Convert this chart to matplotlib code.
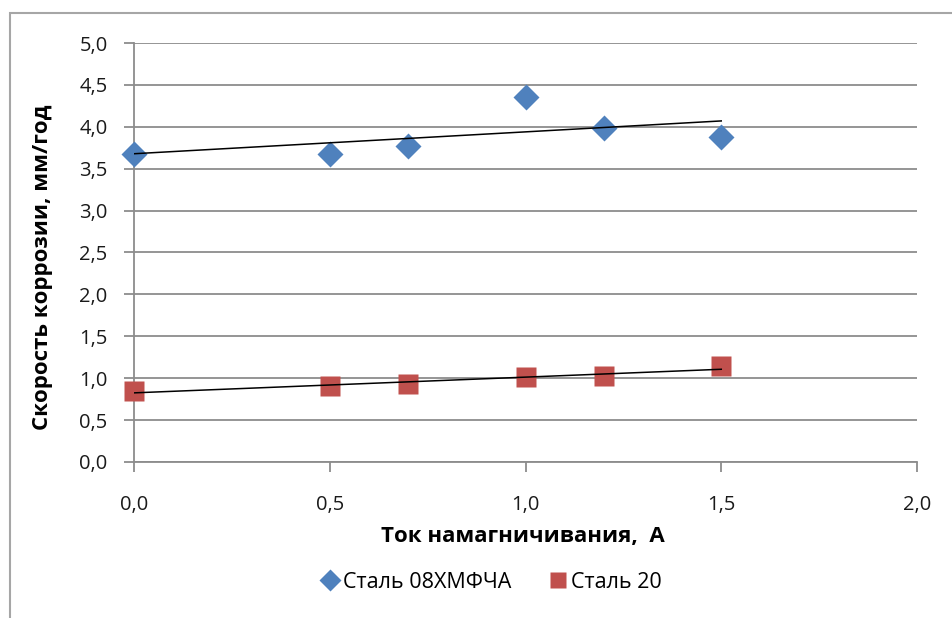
import numpy as np
import matplotlib.pyplot as plt
from matplotlib.patches import Rectangle
from matplotlib.ticker import FuncFormatter

plt.rcParams['font.family'] = ['Open Sans', 'DejaVu Sans']

# ток намагничивания, А
current = [0.0, 0.5, 0.7, 1.0, 1.2, 1.5]
# скорость коррозии, мм/год
steel_08 = [3.68, 3.67, 3.77, 4.36, 3.99, 3.88]
steel_20 = [0.85, 0.91, 0.93, 1.01, 1.03, 1.14]
labels = ["Сталь 08ХМФЧА", "Сталь 20"]

W, H = 952, 618
fig = plt.figure(figsize=(W / 100, H / 100), dpi=100)
ax = fig.add_axes([134 / W, 1 - 462 / H, (917 - 134) / W, (462 - 43) / H])

grid_col = '#8c8c8c'
ax.set_xlim(0, 2.0)
ax.set_ylim(0, 5.0)
ax.set_yticks(np.arange(0, 5.01, 0.5))
ax.set_xticks(np.arange(0, 2.01, 0.5))
fmt = FuncFormatter(lambda v, p: f"{v:.1f}".replace('.', ','))
ax.xaxis.set_major_formatter(fmt)
ax.yaxis.set_major_formatter(fmt)
ax.yaxis.grid(True, color=grid_col, lw=1.3)
ax.set_axisbelow(True)
for s in ['top', 'right']:
    ax.spines[s].set_visible(False)
for s in ['left', 'bottom']:
    ax.spines[s].set_color(grid_col)
    ax.spines[s].set_linewidth(1.3)
ax.tick_params(axis='both', colors=grid_col, width=1.3, length=7,
               labelcolor='#1a1a1a', labelsize=14.5)
ax.tick_params(axis='y', pad=12)
ax.tick_params(axis='x', pad=17)

ax.plot(current, steel_08, 'D', color='#4F81BD', ms=13, mec='none',
        label=labels[0], zorder=3, clip_on=False)
ax.plot(current, steel_20, 's', color='#C0504D', ms=14, mec='none',
        label=labels[1], zorder=3, clip_on=False)

# линейные тренды
xx = np.array([current[0], current[-1]])
for ser in (steel_08, steel_20):
    k, b = np.polyfit(current, ser, 1)
    ax.plot(xx, k * xx + b, color='black', lw=1.1, zorder=4)

ax.set_xlabel("Ток намагничивания,  А", fontsize=16, fontweight='bold')
ax.xaxis.set_label_coords((523 - 134) / (917 - 134), -(526 - 462) / (462 - 43))
ax.set_ylabel("Скорость коррозии, мм/год", fontsize=16, fontweight='bold')
ax.yaxis.set_label_coords(-(134 - 53) / (917 - 134), (462 - 267) / (462 - 43))

leg = fig.legend(loc='center', bbox_to_anchor=(490 / W, 1 - 582 / H), ncol=2,
                 frameon=False, fontsize=15.5, handletextpad=0.05,
                 columnspacing=1.6, handlelength=1.1, markerscale=0.85)

# рамка диаграммы
fig.add_artist(Rectangle((10 / W, -0.1), 1.2, 1.1 - 13 / H,
                         transform=fig.transFigure, fill=False,
                         ec='#a6a6a6', lw=1.5))

fig.savefig('out.png', dpi=100)
